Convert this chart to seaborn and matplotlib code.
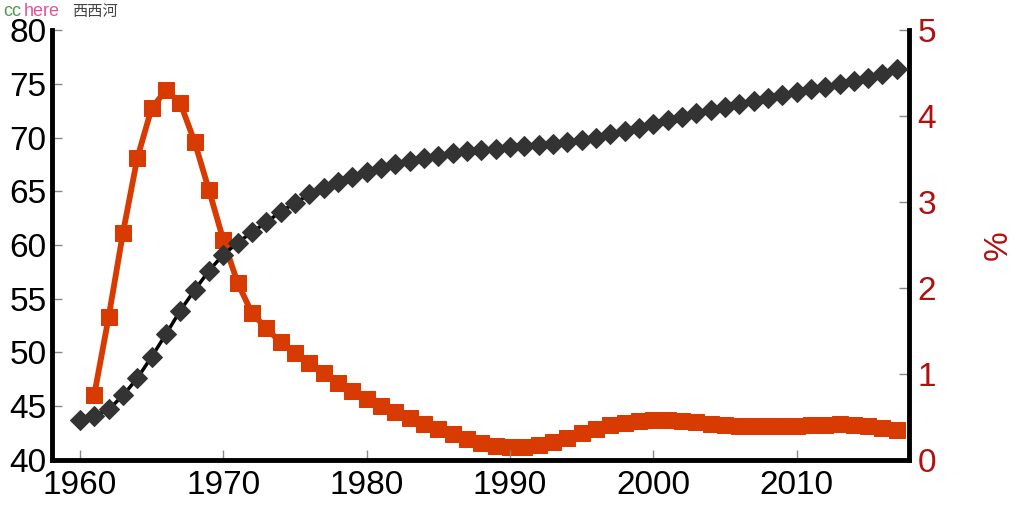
import matplotlib
matplotlib.use("Agg")
import matplotlib.pyplot as plt
import seaborn as sns
import numpy as np
import pandas as pd

years_life = list(range(1960, 2018))
life_exp = [43.7, 44.1, 44.7, 46.0, 47.6, 49.6, 51.7, 53.9, 55.8, 57.6,
            59.1, 60.2, 61.2, 62.1, 63.1, 63.9, 64.7, 65.3, 65.9, 66.3,
            66.8, 67.2, 67.5, 67.8, 68.1, 68.3, 68.6, 68.7, 68.8, 68.9,
            69.1, 69.2, 69.3, 69.4, 69.6, 69.8, 70.0, 70.3, 70.6, 70.9,
            71.3, 71.6, 71.9, 72.3, 72.6, 72.8, 73.1, 73.4, 73.7, 74.0,
            74.2, 74.5, 74.7, 75.0, 75.3, 75.5, 75.9, 76.4]

years_rate = list(range(1961, 2018))
rate = [0.76, 1.66, 2.64, 3.51, 4.09, 4.30, 4.15, 3.70, 3.14,
        2.56, 2.06, 1.71, 1.53, 1.37, 1.24, 1.13, 1.01, 0.90, 0.80,
        0.71, 0.63, 0.56, 0.49, 0.42, 0.36, 0.30, 0.24, 0.20, 0.16,
        0.15, 0.15, 0.17, 0.21, 0.26, 0.31, 0.36, 0.41, 0.43, 0.45,
        0.47, 0.47, 0.45, 0.44, 0.42, 0.41, 0.40, 0.40, 0.40, 0.40,
        0.40, 0.41, 0.41, 0.42, 0.41, 0.40, 0.37, 0.35]

left_ticks = [40, 45, 50, 55, 60, 65, 70, 75, 80]
right_ticks = [0, 1, 2, 3, 4, 5]
x_ticks = [1960, 1970, 1980, 1990, 2000, 2010]
right_label = "%"

sns.set_theme(style="white")
plt.rcParams['font.family'] = ['Liberation Sans', 'DejaVu Sans']

fig = plt.figure(figsize=(10.24, 5.09), dpi=100)
ax = fig.add_axes([0.0508, 0.0963, 0.8369, 0.8447])
ax2 = ax.twinx()

df1 = pd.DataFrame({"year": years_life, "life": life_exp})
df2 = pd.DataFrame({"year": years_rate, "rate": rate})

sns.lineplot(data=df1, x="year", y="life", ax=ax, color="black", lw=2.5,
             marker="D", markersize=10, markerfacecolor="#333333",
             markeredgecolor="#333333", zorder=3)
sns.lineplot(data=df2, x="year", y="rate", ax=ax2, color="#d83b01", lw=4.2,
             marker="s", markersize=11, markerfacecolor="#d83b01",
             markeredgecolor="#d83b01", zorder=2)

ax.set_xlim(1958.05, 2017.85)
ax.set_ylim(40, 80)
ax2.set_ylim(0, 5)
ax.set_xticks(x_ticks)
ax.set_yticks(left_ticks)
ax2.set_yticks(right_ticks)
ax.set_xlabel("")
ax.set_ylabel("")
ax2.set_xlabel("")
ax2.set_ylabel(right_label, color="#b01010", fontsize=24, labelpad=34)

for a in (ax, ax2):
    for s in a.spines.values():
        s.set_visible(False)
ax.spines['left'].set_visible(True)
ax.spines['bottom'].set_visible(True)
ax2.spines['right'].set_visible(True)
for s in (ax.spines['left'], ax.spines['bottom'], ax2.spines['right']):
    s.set_color("black")
    s.set_linewidth(3.5)

ax.tick_params(axis='both', direction='in', length=7, width=1, color="#888888",
               labelsize=24, labelcolor="black", pad=4)
ax.tick_params(axis='x', pad=7, bottom=True)
ax.tick_params(axis='y', left=True, pad=4)
ax2.tick_params(axis='y', direction='in', length=7, width=1, color="#888888",
                labelsize=24, labelcolor="#b01010", right=True, pad=6)

ax.set_zorder(ax2.get_zorder() + 1)
ax.patch.set_visible(False)

top_y = 1 - 3 / 509
fig.text(0.003, top_y, "cc", color="#4f9a4f", fontsize=13, va="top", ha="left")
fig.text(0.023, top_y, "here", color="#e0559a", fontsize=13, va="top", ha="left")
fig.text(0.070, top_y, "西西河", color="#444444", fontsize=11, va="top", ha="left",
         family=['Noto Sans CJK SC', 'DejaVu Sans'])

fig.savefig("out.png", dpi=100)
